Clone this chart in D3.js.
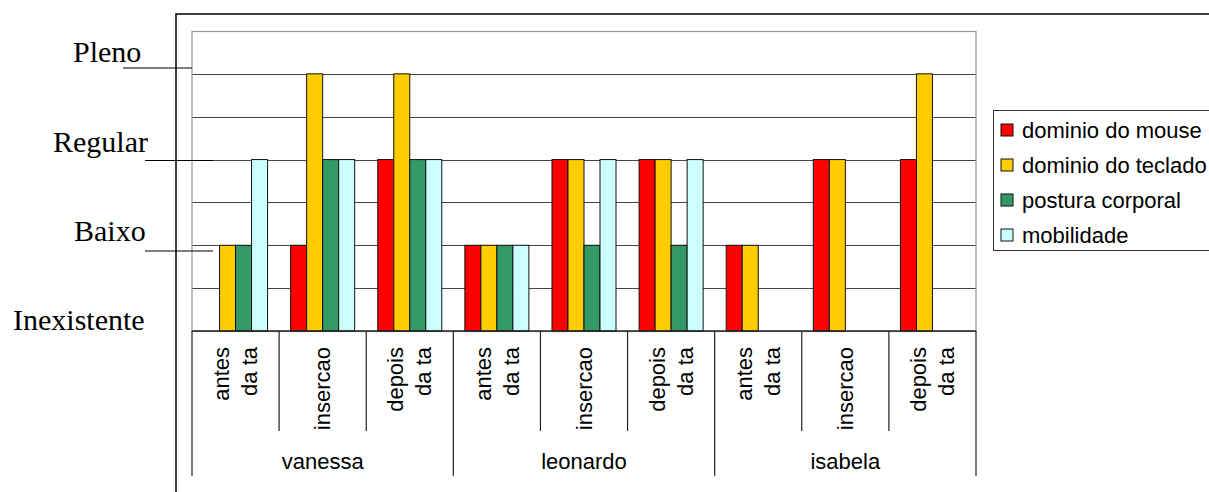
<!DOCTYPE html>
<html>
<head>
<meta charset="utf-8">
<script src="https://cdn.jsdelivr.net/npm/d3@7"></script>
<style>
  html, body { margin: 0; padding: 0; background: #fff; }
  svg { display: block; }
</style>
</head>
<body>
<svg id="chart" width="1209" height="492"></svg>
<script>
// ---- data ----
const groups = ["vanessa", "leonardo", "isabela"];
const phases = [["antes", "da ta"], ["insercao"], ["depois", "da ta"]];
const seriesNames = ["dominio do mouse", "dominio do teclado", "postura corporal", "mobilidade"];
const seriesColors = ["#FF0000", "#FFCC00", "#339966", "#CCFFFF"];
// values per category (group x phase), one array per series
const mouseValues    = [0, 2, 4, 2, 4, 4, 2, 4, 4];
const tecladoValues  = [2, 6, 6, 2, 4, 4, 2, 4, 6];
const posturaValues  = [2, 4, 4, 2, 2, 2, 0, 0, 0];
const mobilidValues  = [4, 4, 4, 2, 4, 4, 0, 0, 0];
const levelLabels = ["Inexistente", "Baixo", "Regular", "Pleno"];

// ---- build ----
const svg = d3.select("#chart");
const seriesValues = [mouseValues, tecladoValues, posturaValues, mobilidValues];
const categories = [];
groups.forEach((g, gi) => phases.forEach((p, pi) => categories.push({ id: gi * 3 + pi, group: g, lines: p })));

const plot = { left: 192, right: 976, top: 31, bottom: 331 };
const x0 = d3.scaleBand().domain(categories.map(d => d.id)).range([plot.left, plot.right]).padding(0);
const bw = x0.bandwidth();
const groupW = bw * 0.735;
const x1 = d3.scaleBand().domain(d3.range(seriesNames.length)).range([(bw - groupW) / 2, (bw + groupW) / 2]).padding(0);
const y = d3.scaleLinear().domain([0, 7]).range([plot.bottom, plot.top]);

// outer frame
svg.append("rect").attr("x", 176).attr("y", 14).attr("width", 1100).attr("height", 600)
  .attr("fill", "none").attr("stroke", "#111").attr("stroke-width", 1.6);

// gridlines
svg.append("g").selectAll("line").data(d3.range(1, 7)).join("line")
  .attr("x1", plot.left).attr("x2", plot.right)
  .attr("y1", d => Math.round(y(d)) + 0.5).attr("y2", d => Math.round(y(d)) + 0.5)
  .attr("stroke", "#444").attr("stroke-width", 1);

// plot border
svg.append("rect").attr("x", plot.left).attr("y", plot.top + 0.5)
  .attr("width", plot.right - plot.left).attr("height", plot.bottom - plot.top)
  .attr("fill", "none").attr("stroke", "#999").attr("stroke-width", 1.2);

// bars
const barData = [];
categories.forEach((c, ci) => seriesValues.forEach((vals, si) => {
  if (vals[ci] > 0) barData.push({ c: c.id, s: si, v: vals[ci] });
}));
svg.append("g").selectAll("rect").data(barData).join("rect")
  .attr("x", d => x0(d.c) + x1(d.s))
  .attr("y", d => y(d.v))
  .attr("width", x1.bandwidth())
  .attr("height", d => y(0) - y(d.v))
  .attr("fill", d => seriesColors[d.s])
  .attr("stroke", "#111").attr("stroke-width", 1);

// axis baseline
svg.append("line").attr("x1", plot.left).attr("x2", plot.right)
  .attr("y1", plot.bottom).attr("y2", plot.bottom).attr("stroke", "#222").attr("stroke-width", 1.3);

// category separators
const seps = d3.range(0, categories.length + 1);
svg.append("g").selectAll("line").data(seps).join("line")
  .attr("x1", i => (i < categories.length ? x0(i) : plot.right))
  .attr("x2", i => (i < categories.length ? x0(i) : plot.right))
  .attr("y1", plot.bottom)
  .attr("y2", i => (i % 3 === 0 ? 476 : 431))
  .attr("stroke", "#222").attr("stroke-width", 1.2);

// phase labels (rotated)
const lab = svg.append("g").attr("font-family", "'Liberation Sans', Arial, sans-serif").attr("font-size", 22).attr("fill", "#000");
categories.forEach(c => {
  const cx = x0(c.id) + bw / 2;
  const n = c.lines.length;
  c.lines.forEach((t, li) => {
    const lx = cx + (li - (n - 1) / 2) * 28;
    lab.append("text")
      .attr("transform", `translate(${lx},347) rotate(-90)`)
      .attr("text-anchor", "end")
      .attr("dy", "0.35em")
      .text(t);
  });
});

// group labels
groups.forEach((g, gi) => {
  const gx = (x0(gi * 3) + (gi * 3 + 3 < categories.length ? x0(gi * 3 + 3) : plot.right)) / 2;
  lab.append("text").attr("x", gx).attr("y", 469).attr("text-anchor", "middle").text(g);
});

// legend
const lg = svg.append("g");
lg.append("rect").attr("x", 993.5).attr("y", 110.5).attr("width", 300).attr("height", 140)
  .attr("fill", "#fff").attr("stroke", "#333").attr("stroke-width", 1);
seriesNames.forEach((s, i) => {
  const cy = 130 + i * 35;
  lg.append("rect").attr("x", 1001).attr("y", cy - 6).attr("width", 12).attr("height", 12)
    .attr("fill", seriesColors[i]).attr("stroke", "#111").attr("stroke-width", 1);
  lg.append("text").attr("x", 1022).attr("y", cy).attr("dy", "0.35em")
    .attr("font-family", "'Liberation Sans', Arial, sans-serif").attr("font-size", 22).attr("fill", "#000").text(s);
});

// level annotations (serif) with leader lines
const ann = svg.append("g").attr("font-family", "'Liberation Serif', 'Times New Roman', serif").attr("font-size", 30).attr("fill", "#000");
const annPos = [
  { t: levelLabels[3], x: 73, y: 62, line: [123, 192, 68] },
  { t: levelLabels[2], x: 53, y: 152, line: [145, 213, 160.5] },
  { t: levelLabels[1], x: 74, y: 241, line: [145, 213, 251] },
  { t: levelLabels[0], x: 13, y: 330, line: null }
];
annPos.forEach(a => {
  ann.append("text").attr("x", a.x).attr("y", a.y).text(a.t);
  if (a.line) {
    svg.append("line").attr("x1", a.line[0]).attr("x2", a.line[1]).attr("y1", a.line[2]).attr("y2", a.line[2])
      .attr("stroke", "#000").attr("stroke-width", 1.2);
  }
});
</script>
</body>
</html>
